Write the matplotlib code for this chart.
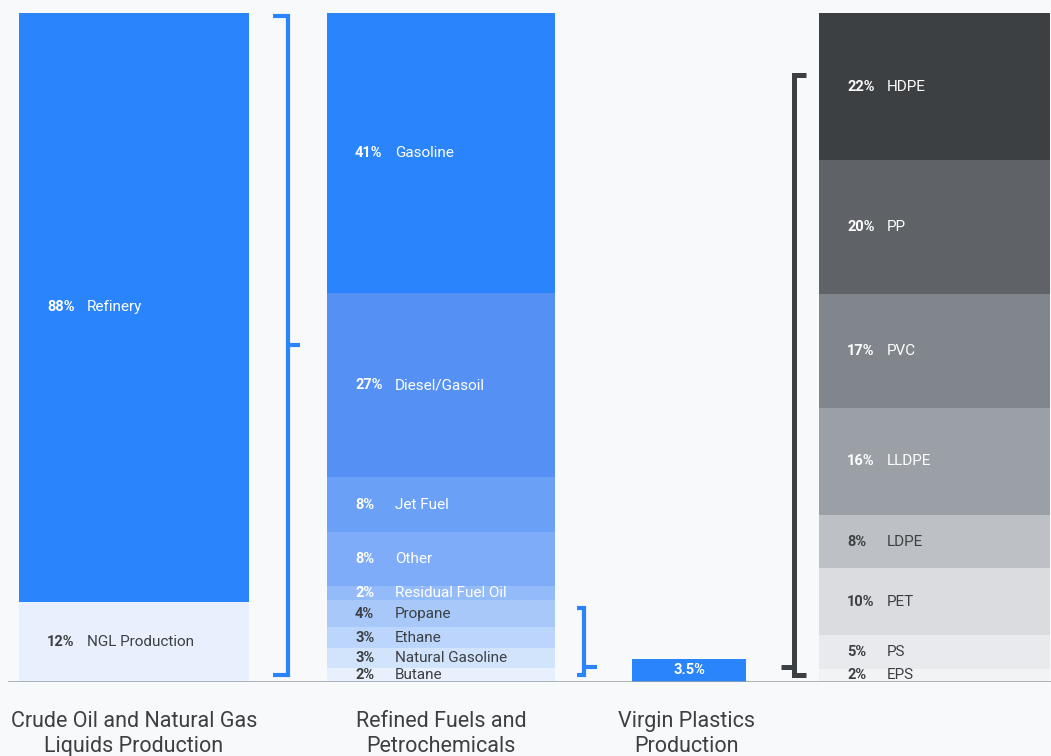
import matplotlib.pyplot as plt

plt.rcParams['font.family'] = ['Roboto', 'DejaVu Sans']

# stacked columns, listed top to bottom
crude_names = ['Refinery', 'NGL Production']
crude_pct = [88, 12]
crude_colors = ['#2a84fc', '#e8f0fe']
crude_text = ['white', '#3c4043']

fuel_names = ['Gasoline', 'Diesel/Gasoil', 'Jet Fuel', 'Other', 'Residual Fuel Oil',
              'Propane', 'Ethane', 'Natural Gasoline', 'Butane']
fuel_pct = [41, 27, 8, 8, 2, 4, 3, 3, 2]
fuel_colors = ['#2a84fc', '#5591f5', '#6aa0f6', '#7eacf8', '#94bbf9',
               '#a8c8fa', '#bcd5fc', '#d2e3fc', '#e8f0fe']
fuel_text = ['white'] * 5 + ['#3c4043'] * 4

plastic_pct = 3.5

resin_names = ['HDPE', 'PP', 'PVC', 'LLDPE', 'LDPE', 'PET', 'PS', 'EPS']
resin_pct = [22, 20, 17, 16, 8, 10, 5, 2]
resin_colors = ['#3c4043', '#5f6368', '#80868b', '#9aa0a6',
                '#bdc1c6', '#dadce0', '#e8eaed', '#f1f3f4']
resin_text = ['white'] * 4 + ['#3c4043'] * 4

col_labels = ['Crude Oil and Natural Gas\nLiquids Production',
              'Refined Fuels and\nPetrochemicals',
              'Virgin Plastics\nProduction']

BG = '#f8f9fa'
DARK = '#3c4043'
BLUE = '#2a84fc'

fig = plt.figure(figsize=(10.51, 7.56), dpi=100, facecolor=BG)
ax = fig.add_axes([0, 74 / 756, 1, 669 / 756])
ax.set_facecolor(BG)
ax.set_xlim(0, 1051)
ax.set_ylim(0, 100)
ax.axis('off')


def stack(left, width, names, pct, colors, tcolors):
    total = sum(pct)
    top = 100.0
    for name, p, c, tc in zip(names, pct, colors, tcolors):
        h = p / total * 100
        ax.bar(left, h, width=width, bottom=top - h, color=c, align='edge', linewidth=0)
        mid = top - h / 2
        ax.text(left + 28, mid, f'{p}%', color=tc, fontsize=10.5, fontweight='bold',
                va='center', ha='left')
        ax.text(left + 68, mid, name, color=tc, fontsize=11, va='center', ha='left')
        top -= h


stack(19, 230, crude_names, crude_pct, crude_colors, crude_text)
stack(327, 228, fuel_names, fuel_pct, fuel_colors, fuel_text)
stack(819, 231, resin_names, resin_pct, resin_colors, resin_text)

ax.bar(632, plastic_pct, width=114, bottom=0, color=BLUE, align='edge', linewidth=0)
ax.text(689, plastic_pct / 2, f'{plastic_pct}%', color='white', fontsize=10.5,
        fontweight='bold', ha='center', va='center')

# baseline
ax.plot([8, 1051], [0, 0], color='#9aa0a6', lw=1.1, solid_capstyle='butt', zorder=5)

# brackets
kw = dict(lw=3, solid_joinstyle='miter', solid_capstyle='butt', clip_on=False)
ax.plot([273, 288, 288, 273], [99.6, 99.6, 1.1, 1.1], color=BLUE, **kw)
ax.plot([288, 300], [50.4, 50.4], color=BLUE, **kw)

ngl_top = sum(fuel_pct[5:]) / sum(fuel_pct) * 100
ax.plot([577, 584, 584, 577], [ngl_top - 1.2, ngl_top - 1.2, 1.1, 1.1], color=BLUE, **kw)
ax.plot([584, 597], [2.2, 2.2], color=BLUE, **kw)

ax.plot([806, 794, 794, 806], [90.7, 90.7, 1.1, 1.1], color=DARK, lw=3.6,
        solid_joinstyle='miter', solid_capstyle='butt', clip_on=False)
ax.plot([781, 794], [2.2, 2.2], color=DARK, lw=3.6, solid_capstyle='butt', clip_on=False)

# column titles
for x, lab in zip([134, 441, 686], col_labels):
    fig.text(x / 1051, 1 - 711 / 756, lab, ha='center', va='top', fontsize=15.5,
             color=DARK, linespacing=1.25)

fig.savefig('out.png', dpi=100, facecolor=BG)
